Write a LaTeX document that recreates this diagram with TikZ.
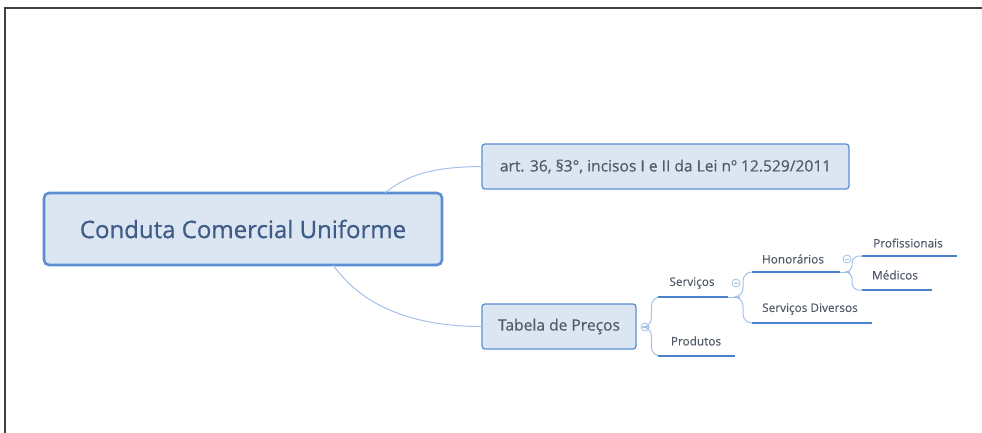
\documentclass[tikz,border=0pt]{standalone}
\usepackage{fontspec}
\setmainfont{Open Sans}
\newfontface\mainsemi{Open Sans}[FakeBold=0.7]
\newfontface\subsemi{Open Sans}[FakeBold=0.3]
\definecolor{nodefill}{HTML}{DCE6F2}
\definecolor{nodeborder}{HTML}{5B8ED2}
\definecolor{maintext}{HTML}{3E5C85}
\definecolor{subtext}{HTML}{505A68}
\definecolor{linkc}{HTML}{A3C1E8}
\definecolor{ulc}{HTML}{4A80CC}
\definecolor{framec}{HTML}{404040}
\begin{document}
\begin{tikzpicture}[x=1pt,y=-1pt,
  mainbox/.style={draw=nodeborder,line width=2.6pt,fill=nodefill,rounded corners=5pt,
     minimum width=398pt,minimum height=72pt,inner sep=0pt,text=maintext,
     font=\mainsemi\fontsize{24}{28}\selectfont},
  subbox/.style={draw=nodeborder,line width=1.3pt,fill=nodefill,rounded corners=3pt,
     minimum height=45pt,inner sep=0pt,text=subtext,font=\subsemi\fontsize{15.6}{18}\selectfont},
  leaf/.style={text=subtext,font=\subsemi\fontsize{11.8}{14}\selectfont,inner sep=0pt},
  link/.style={draw=linkc,line width=1pt},
  uline/.style={draw=ulc,line width=2pt},
  fold/.style={circle,draw=linkc,line width=0.8pt,fill=white,minimum size=8pt,inner sep=0pt,
     path picture={\draw[linkc,line width=0.7pt] ([xshift=-2pt]path picture bounding box.center) -- ([xshift=2pt]path picture bounding box.center);}}
]
\useasboundingbox (0,0) rectangle (982,432);
\draw[framec,line width=2.5pt] (995,8) -- (5,8) -- (5,445);

% main node
\node[mainbox] (main) at (243,229) {Conduta Comercial Uniforme};
% level 1
\node[subbox,minimum width=367pt] (art) at (665.5,166.5) {art. 36, §3°, incisos I e II da Lei nº 12.529/2011};
\node[subbox,minimum width=154pt] (tab) at (559,326.5) {Tabela de Preços};

\coordinate (mtop) at (385,193);
\coordinate (mbot) at (333,265);
\draw[link] (mtop) .. controls (410,172) and (440,167) .. (art.west);
\draw[link] (mbot) .. controls (365,310) and (420,326.5) .. (tab.west);

% Tabela branch
\node[fold] (f1) at (645,327) {};
\coordinate (s1) at (658,297);
\coordinate (s1e) at (728,297);
\coordinate (p1) at (658,356);
\coordinate (p1e) at (735,356);
\draw[link,rounded corners=9pt] (f1.east) -- ++(2,0) |- (s1);
\draw[link,rounded corners=9pt] (f1.east) -- ++(2,0) |- (p1);
\draw[uline] (s1) -- (s1e);
\draw[uline] (p1) -- (p1e);
\node[leaf] (serv) at (692,283) {Serviços};
\node[leaf] (prod) at (696,341) {Produtos};

% Serviços branch
\node[fold] (f2) at (736,283) {};
\coordinate (j2) at (740,297);
\coordinate (h1) at (752,272);
\coordinate (h1e) at (840,272);
\coordinate (d1) at (752,323);
\coordinate (d1e) at (872,323);
\draw[link] (s1e) -- (j2);
\draw[link,rounded corners=9pt] (j2) -- ++(3,0) |- (h1);
\draw[link,rounded corners=9pt] (j2) -- ++(3,0) |- (d1);
\draw[uline] (h1) -- (h1e);
\draw[uline] (d1) -- (d1e);
\node[leaf] (hon) at (793,259) {Honorários};
\node[leaf] (div) at (810,309) {Serviços Diversos};

% Honorários branch
\node[fold] (f3) at (847,259) {};
\coordinate (j3) at (850,272);
\coordinate (q1) at (862,256);
\coordinate (q1e) at (957,256);
\coordinate (m1) at (862,290);
\coordinate (m1e) at (932,290);
\draw[link] (h1e) -- (j3);
\draw[link,rounded corners=7pt] (j3) -- ++(2,0) |- (q1);
\draw[link,rounded corners=7pt] (j3) -- ++(2,0) |- (m1);
\draw[uline] (q1) -- (q1e);
\draw[uline] (m1) -- (m1e);
\node[leaf] (prof) at (908,243) {Profissionais};
\node[leaf] (med) at (895,275) {Médicos};
\end{tikzpicture}
\end{document}
